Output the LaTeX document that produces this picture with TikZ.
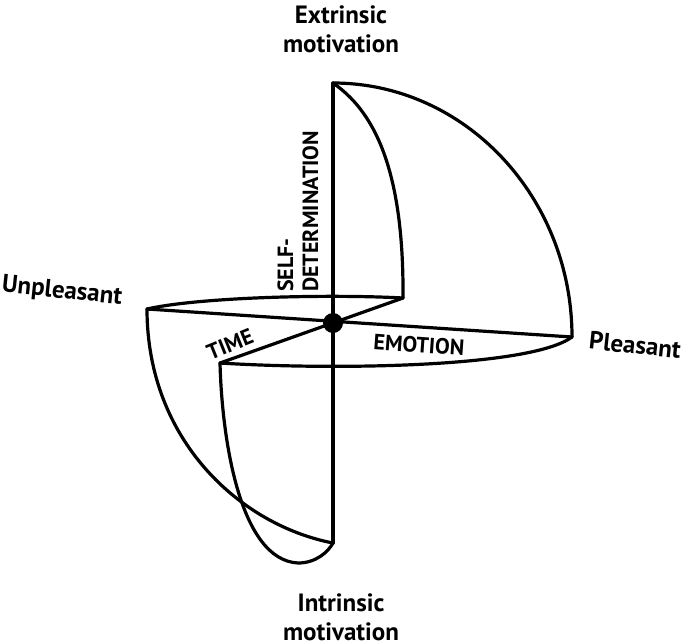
\documentclass[tikz,border=0pt]{standalone}
\usepackage{fontspec}
\setmainfont{PT Sans}
\begin{document}
\begin{tikzpicture}[x=1pt,y=-1pt,
  edge/.style={line width=3.2pt,line join=round,line cap=round},
  outerlbl/.style={font=\bfseries\fontsize{25}{29}\selectfont,inner sep=0pt,align=center},
  axislbl/.style={font=\bfseries\fontsize{22}{25}\selectfont,inner sep=0pt}]
\useasboundingbox (0,0) rectangle (685,641);
\coordinate (T) at (333,83);
\coordinate (B) at (333,543);
\coordinate (C) at (333,323);
\coordinate (L) at (147,309);
\coordinate (P) at (572,337);
\coordinate (R) at (403,298);
\coordinate (F) at (220,363);
\coordinate (D) at (298,563);
% axes
\draw[edge] (T) -- (B);
\draw[edge] (L) -- (P);
\draw[edge] (R) -- (F);
% upper right octant
\draw[edge] (T) .. controls (465,83) and (572,197) .. (P);
\draw[edge] (T) .. controls (372,110) and (404,165) .. (R);
% equator edges
\draw[edge] (L) .. controls (200,297) and (330,294) .. (R);
\draw[edge] (F) .. controls (330,370) and (530,368) .. (P);
% lower left octant
\draw[edge] (L) .. controls (147,440) and (240,525) .. (B);
\draw[edge] (F) .. controls (222,440) and (240,560) .. (D) .. controls (316,563) and (328,552) .. (B);
% centre dot
\node[circle,fill=black,inner sep=0pt,minimum size=20pt] (dot) at (C) {};
% labels
\node[outerlbl] (ext) at (341,29) {Extrinsic\\motivation};
\node[outerlbl] (int) at (341,617) {Intrinsic\\motivation};
\node[outerlbl,rotate=-6] (unp) at (62,292) {Unpleasant};
\node[outerlbl,rotate=-6] (ple) at (635,345) {Pleasant};
\node[axislbl,rotate=90,anchor=west,align=left] (sdt) at (298,292) {SELF-\\DETERMINATION};
\node[axislbl,rotate=22] (time) at (230,344) {TIME};
\node[axislbl,rotate=-4] (emo) at (419,345) {EMOTION};
\end{tikzpicture}
\end{document}
